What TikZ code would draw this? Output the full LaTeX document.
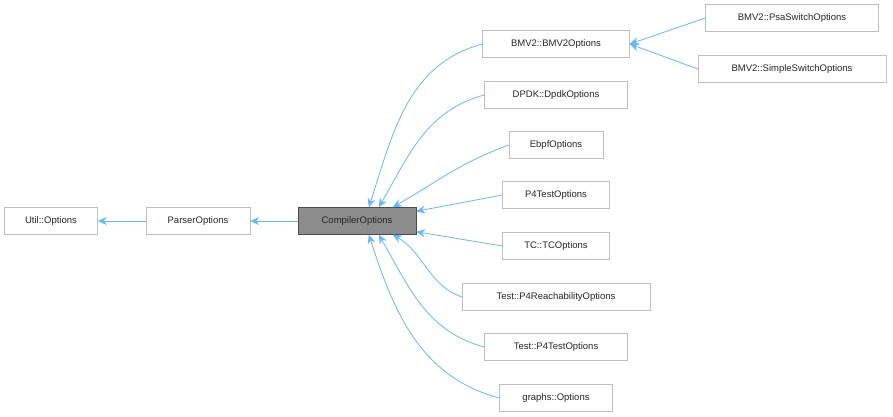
\documentclass[tikz,border=0pt]{standalone}
\usepackage{fontspec}
\setmainfont{Liberation Sans}
\usetikzlibrary{arrows.meta,calc}
\definecolor{edge}{HTML}{63B8FF}
\definecolor{bord}{HTML}{BFBFBF}
\begin{document}
\begin{tikzpicture}[x=1pt,y=-1pt,
  box/.style={draw=bord,fill=white,minimum height=27pt,inner xsep=6pt,font=\fontsize{9.5}{11}\selectfont,text=black!85},
  e/.style={draw=edge,line width=0.8pt,-{Stealth[length=9pt,width=8pt,fill=edge]}}]
\useasboundingbox (0,0) rectangle (893,417);
\node[box,minimum width=93pt] (util) at (51,221) {Util::Options};
\node[box,minimum width=104pt] (parser) at (198,221) {ParserOptions};
\node[box,minimum width=118pt,fill=black!45,draw=black!70] (comp) at (357,221) {CompilerOptions};
\node[box,minimum width=147pt] (bmv2) at (556,44) {BMV2::BMV2Options};
\node[box,minimum width=143pt] (dpdk) at (556,95) {DPDK::DpdkOptions};
\node[box,minimum width=94pt] (ebpf) at (556,145) {EbpfOptions};
\node[box,minimum width=107pt] (p4t) at (556,195) {P4TestOptions};
\node[box,minimum width=107pt] (tc) at (556,246) {TC::TCOptions};
\node[box,minimum width=188pt] (reach) at (556,297) {Test::P4ReachabilityOptions};
\node[box,minimum width=143pt] (tp4t) at (556,347) {Test::P4TestOptions};
\node[box,minimum width=113pt] (graphs) at (556,398) {graphs::Options};
\node[box,minimum width=173pt] (psa) at (792,18) {BMV2::PsaSwitchOptions};
\node[box,minimum width=188pt] (simple) at (792,69) {BMV2::SimpleSwitchOptions};
\draw[e] (parser) -- (util);
\draw[e] (comp) -- (parser);
\draw[e] (psa.west) -- (bmv2.east);
\draw[e] (simple.west) -- (bmv2.east);
\draw[e] (bmv2.west) to[out=195,in=72] ($(comp.north west)+(71,0)$);
\draw[e] (dpdk.west) to[out=195,in=60] ($(comp.north west)+(81,0)$);
\draw[e] (ebpf.west) to[out=200,in=30] ($(comp.north west)+(95,0)$);
\draw[e] (p4t.west) -- ($(comp.north east)+(0,4)$);
\draw[e] (tc.west) -- ($(comp.south east)+(0,-3)$);
\draw[e] (reach.west) to[out=160,in=-30] ($(comp.south west)+(95,0)$);
\draw[e] (tp4t.west) to[out=165,in=-60] ($(comp.south west)+(81,0)$);
\draw[e] (graphs.west) to[out=165,in=-72] ($(comp.south west)+(71,0)$);
\end{tikzpicture}
\end{document}
